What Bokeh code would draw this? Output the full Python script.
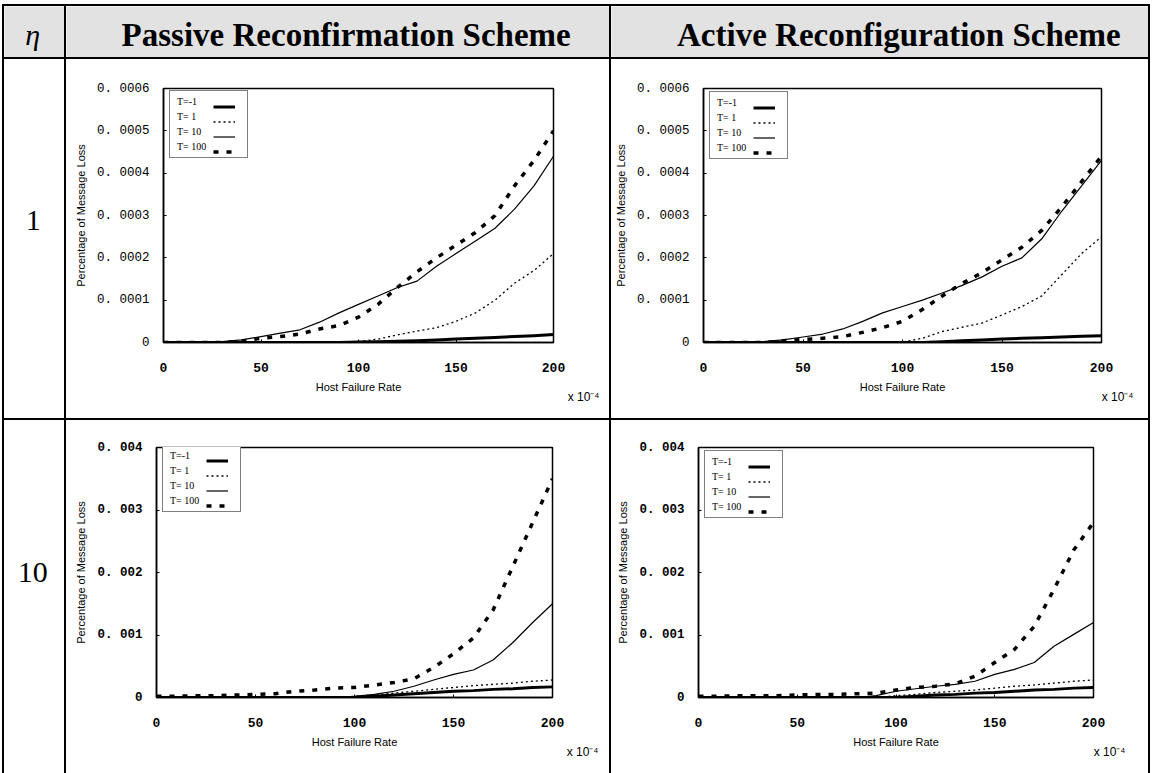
from bokeh.plotting import figure
from bokeh.layouts import row, column
from bokeh.models import Div, Range1d, FixedTicker, Legend, LegendItem, Title
from bokeh.core.properties import value
from bokeh.embed import file_html
from bokeh.resources import INLINE

# ---------------- data ----------------
host_failure_rate = [0, 10, 20, 30, 40, 50, 60, 70, 80, 90, 100,
                     110, 120, 130, 140, 150, 160, 170, 180, 190, 200]
series_labels = ["T=-1", "T= 1", "T= 10", "T= 100"]

# Passive Reconfirmation Scheme, eta = 1
passive1_tm1 = [0, 0, 0, 0, 0, 0, 0, 0, 0, 0, 0.000001, 0.000002, 0.000003, 0.000004,
                0.000006, 0.000008, 0.00001, 0.000012, 0.000014, 0.000016, 0.000019]
passive1_t1 = [0, 0, 0, 0, 0, 0, 0, 0, 0, 0, 0.000002, 0.000008, 0.000018, 0.000027,
               0.000035, 0.00005, 0.00007, 0.0001, 0.00014, 0.00017, 0.00021]
passive1_t10 = [0, 0, 0, 0.000002, 0.000006, 0.000014, 0.000022, 0.00003, 0.000048, 0.00007,
                0.00009, 0.00011, 0.00013, 0.000145, 0.00018, 0.00021, 0.00024, 0.00027,
                0.000315, 0.00037, 0.00044]
passive1_t100 = [0, 0, 0, 0, 0.000003, 0.00001, 0.000014, 0.00002, 0.000032, 0.00004,
                 0.00006, 0.00009, 0.00013, 0.000167, 0.0002, 0.00023, 0.00026, 0.0003,
                 0.00037, 0.00043, 0.0005]

# Active Reconfiguration Scheme, eta = 1
active1_tm1 = [0, 0, 0, 0, 0, 0, 0, 0, 0, 0, 0, 0, 0.000002, 0.000004, 0.000006,
               0.000008, 0.00001, 0.000011, 0.000013, 0.000015, 0.000016]
active1_t1 = [0, 0, 0, 0, 0, 0, 0, 0, 0, 0, 0.000001, 0.00001, 0.000026, 0.000036,
              0.000046, 0.000065, 0.000085, 0.00011, 0.00016, 0.00021, 0.00025]
active1_t10 = [0, 0, 0, 0.000002, 0.000006, 0.000013, 0.00002, 0.000032, 0.00005, 0.00007,
               0.000085, 0.0001, 0.000117, 0.000135, 0.000155, 0.00018, 0.0002, 0.000245,
               0.00031, 0.00037, 0.00043]
active1_t100 = [0, 0, 0, 0, 0.000004, 0.000007, 0.00001, 0.000014, 0.000024, 0.000035,
                0.00005, 0.000078, 0.00011, 0.00014, 0.000165, 0.000195, 0.000225,
                0.000265, 0.00032, 0.00038, 0.00044]

# Passive Reconfirmation Scheme, eta = 10
passive10_tm1 = [0, 0, 0, 0, 0, 0, 0, 0, 0, 0, 0, 0.00002, 0.00004, 0.00006, 0.00008,
                 0.0001, 0.00011, 0.00013, 0.00014, 0.00016, 0.00017]
passive10_t1 = [0, 0, 0, 0, 0, 0, 0, 0, 0, 0, 0.00002, 0.00004, 0.00007, 0.0001, 0.00013,
                0.00016, 0.00019, 0.00021, 0.00023, 0.00026, 0.00028]
passive10_t10 = [0, 0, 0, 0, 0, 0, 0, 0, 0, 0, 0.00002, 0.00005, 0.0001, 0.00018, 0.00028,
                 0.00037, 0.00044, 0.0006, 0.00088, 0.0012, 0.0015]
passive10_t100 = [0.00002, 0.00002, 0.00003, 0.00003, 0.00004, 0.00005, 0.00006, 0.0001,
                  0.00012, 0.00015, 0.00016, 0.0002, 0.00024, 0.0003, 0.00048, 0.0007,
                  0.00095, 0.0014, 0.0021, 0.0028, 0.0035]

# Active Reconfiguration Scheme, eta = 10
active10_tm1 = [0, 0, 0, 0, 0, 0, 0, 0, 0, 0, 0, 0.00002, 0.00004, 0.00005, 0.00007,
                0.00008, 0.0001, 0.00012, 0.00013, 0.00015, 0.00016]
active10_t1 = [0, 0, 0, 0, 0, 0, 0, 0, 0, 0, 0.00003, 0.00005, 0.00008, 0.0001, 0.00012,
               0.00015, 0.00018, 0.0002, 0.00023, 0.00026, 0.00028]
active10_t10 = [0, 0, 0, 0, 0, 0, 0, 0, 0, 0.00003, 0.0001, 0.00014, 0.00018, 0.00021,
                0.00026, 0.00037, 0.00045, 0.00056, 0.00082, 0.00101, 0.0012]
active10_t100 = [0.00002, 0.00002, 0.00003, 0.00003, 0.00003, 0.00004, 0.00005, 0.00005,
                 0.00006, 0.00007, 0.00012, 0.00016, 0.00018, 0.00022, 0.00034, 0.00056,
                 0.00077, 0.00114, 0.00173, 0.00236, 0.0028]

x_ticks = [0, 50, 100, 150, 200]
y_ticks_eta1 = [0, 0.0001, 0.0002, 0.0003, 0.0004, 0.0005, 0.0006]
y_labels_eta1 = ["0", "0. 0001", "0. 0002", "0. 0003", "0. 0004", "0. 0005", "0. 0006"]
y_ticks_eta10 = [0, 0.001, 0.002, 0.003, 0.004]
y_labels_eta10 = ["0", "0. 001", "0. 002", "0. 003", "0. 004"]

header_texts = ["η", "Passive Reconfirmation Scheme", "Active Reconfiguration Scheme"]
row_texts = ["1", "10"]
x_title = "Host Failure Rate"
y_title = "Percentage of Message Loss"
x_unit = "x 10⁻⁴"

# ---------------- styles ----------------
series_styles = [
    dict(line_width=3.0, line_dash="solid"),
    dict(line_width=1.3, line_dash="2 3"),
    dict(line_width=1.2, line_dash="solid"),
    dict(line_width=3.5, line_dash="5 8"),
]
HDR_GRAY = "#e2e2e2"
SERIF = "Liberation Serif"
MONO = "Liberation Mono"
SANS = "Liberation Sans"

LEG_PAD, LEG_ROW, LEG_SP = 4, 13, 2
LEG_H = 2 * LEG_PAD + 4 * LEG_ROW + 3 * LEG_SP


def make_plot(w, h, left, right, top, bottom, ymax, yticks, ylabels, series, ybold,
              unit_offset):
    p = figure(width=w, height=h, x_range=Range1d(0, 200), y_range=Range1d(0, ymax),
               output_backend="svg", toolbar_location=None,
               min_border_left=left, min_border_right=right,
               min_border_top=top, min_border_bottom=bottom,
               background_fill_color="white", border_fill_color="white",
               outline_line_color="black", outline_line_width=1.5)
    p.xgrid.visible = False
    p.ygrid.visible = False
    p.xaxis.ticker = FixedTicker(ticks=x_ticks)
    p.yaxis.ticker = FixedTicker(ticks=yticks)
    p.yaxis.major_label_overrides = dict(zip(yticks, ylabels))
    for ax in (p.xaxis[0], p.yaxis[0]):
        ax.axis_line_color = "black"
        ax.axis_line_width = 1.5
        ax.major_tick_in = 3
        ax.major_tick_out = 0
        ax.minor_tick_in = 0
        ax.minor_tick_out = 0
        ax.major_tick_line_color = "black"
        ax.major_label_text_color = "black"
        ax.major_label_text_font = MONO
        ax.axis_label_text_font = SANS
        ax.axis_label_text_font_style = "normal"
        ax.axis_label_text_font_size = "11px"
        ax.axis_label_text_color = "black"
    p.xaxis.major_label_text_font_size = "13px"
    p.xaxis.major_label_text_font_style = "bold"
    p.yaxis.major_label_text_font_size = "12.5px"
    p.yaxis.major_label_text_font_style = "bold" if ybold else "normal"
    p.xaxis.major_label_standoff = 20
    p.yaxis.major_label_standoff = 14
    p.xaxis.axis_label = x_title
    p.yaxis.axis_label = y_title
    p.xaxis.axis_label_standoff = 6
    p.yaxis.axis_label_standoff = 7

    rends = []
    for ys, st in zip(series, series_styles):
        r = p.line(host_failure_rate, ys, line_color="black", line_cap="butt",
                   line_join="round", **st)
        rends.append(r)

    fh = h - top - bottom
    common = dict(padding=LEG_PAD, spacing=LEG_SP, label_height=LEG_ROW,
                  glyph_height=LEG_ROW, label_text_font=SERIF,
                  label_text_font_size="10px", label_text_color="black", margin=0)
    leg_y = fh - 5 - LEG_H
    leg_a = Legend(items=[LegendItem(label=value(t), renderers=[r])
                          for t, r in zip(series_labels, rends)],
                   location=(6, leg_y), glyph_width=0, label_standoff=3,
                   label_width=66, border_line_color="black", border_line_width=1,
                   background_fill_color="white", background_fill_alpha=1.0, **common)
    leg_b = Legend(items=[LegendItem(label=value(" "), renderers=[r]) for r in rends],
                   location=(50, leg_y), glyph_width=22, label_standoff=0,
                   label_width=0, border_line_color=None,
                   background_fill_alpha=0.0, **common)
    p.add_layout(leg_a)
    p.add_layout(leg_b)

    p.add_layout(Title(text=x_unit, align="right", offset=unit_offset, standoff=-15,
                       text_font=SANS, text_font_size="12px", text_font_style="normal",
                       text_color="black"), "below")
    return p


def text_cell(w, h, txt, fx, fy, size, style, bg):
    p = figure(width=w, height=h, x_range=Range1d(0, 1), y_range=Range1d(0, 1),
               x_axis_type=None, y_axis_type=None, output_backend="svg",
               toolbar_location=None, min_border=0, outline_line_color=None,
               background_fill_color=bg, border_fill_color=bg)
    p.xgrid.visible = False
    p.ygrid.visible = False
    p.text(x=[fx], y=[fy], text=[txt], text_font=value(SERIF), text_font_size=size,
           text_font_style=style, text_align="center", text_baseline="middle",
           text_color="black")
    return p


BLACK = {"background-color": "black"}


def sp(w, h):
    return Div(width=w, height=h, margin=0)


def ln(w, h):
    return Div(width=w, height=h, margin=0, styles=BLACK)


W_ETA, W_P, W_A = 60, 543, 537
H_HDR, H_R1, H_R2 = 51, 359, 353


def body_row(h, c0, c1, c2):
    return row(sp(2, h), ln(2, h), c0, ln(2, h), c1, ln(2, h), c2, ln(2, h), sp(2, h),
               spacing=0)


def hline():
    return row(sp(2, 2), ln(1148, 2), sp(2, 2), spacing=0)


hdr = body_row(H_HDR,
               text_cell(W_ETA, H_HDR, header_texts[0], 0.47, 0.45, "30px", "italic", HDR_GRAY),
               text_cell(W_P, H_HDR, header_texts[1], 0.515, 0.45, "33px", "bold", HDR_GRAY),
               text_cell(W_A, H_HDR, header_texts[2], 0.535, 0.45, "33px", "bold", HDR_GRAY))

p11 = make_plot(W_P, H_R1, 97, 56, 28, 76, 0.0006, y_ticks_eta1, y_labels_eta1,
                [passive1_tm1, passive1_t1, passive1_t10, passive1_t100], False, -46)
p12 = make_plot(W_A, H_R1, 90, 47, 29, 76, 0.0006, y_ticks_eta1, y_labels_eta1,
                [active1_tm1, active1_t1, active1_t10, active1_t100], False, -32)
p21 = make_plot(W_P, H_R2, 90, 57, 25, 72, 0.004, y_ticks_eta10, y_labels_eta10,
                [passive10_tm1, passive10_t1, passive10_t10, passive10_t100], True, -46)
p22 = make_plot(W_A, H_R2, 87, 55, 27, 76, 0.004, y_ticks_eta10, y_labels_eta10,
                [active10_tm1, active10_t1, active10_t10, active10_t100], True, -32)

r1 = body_row(H_R1, text_cell(W_ETA, H_R1, row_texts[0], 0.48, 0.48, "30px", "normal", "white"),
              p11, p12)
r2 = body_row(H_R2, text_cell(W_ETA, H_R2, row_texts[1], 0.47, 0.5, "30px", "normal", "white"),
              p21, p22)

layout = column(sp(1152, 4), hline(), hdr, hline(), r1, hline(), r2, spacing=0)

open("out.html", "w").write(file_html(layout, INLINE))
